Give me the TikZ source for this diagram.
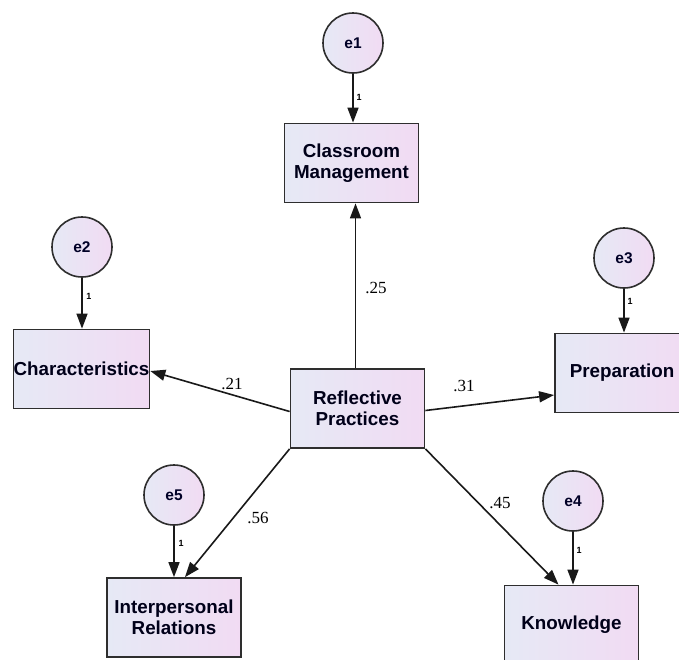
\documentclass[tikz,border=0pt]{standalone}
\usepackage{fontspec}
\setmainfont{Liberation Sans}
\newfontfamily\numfont{Liberation Serif}
\usetikzlibrary{arrows.meta}
\definecolor{lcol}{HTML}{E6E9F5}
\definecolor{rcol}{HTML}{F1DBF3}
\definecolor{edge}{HTML}{2E2E2E}
\tikzset{
  obsbox/.style={draw=edge, line width=1.8pt, rectangle, minimum width=134pt, minimum height=79pt,
     left color=lcol, right color=rcol, align=center, inner sep=0pt,
     font=\fontsize{18.8}{21.5}\selectfont\bfseries, text=black!90!blue},
  errc/.style={draw=edge, line width=1.6pt, circle, minimum size=60pt, inner sep=0pt,
     left color=lcol, right color=rcol, font=\fontsize{15.5}{17}\selectfont\bfseries, text=black!85!blue},
  path/.style={line width=1.6pt, draw=black!90, -{Triangle[length=15pt,width=11pt]}},
  coef/.style={font=\numfont\fontsize{17}{19}\selectfont, inner sep=0pt},
  one/.style={font=\fontsize{9}{10}\selectfont\bfseries, inner sep=0pt}
}
\begin{document}
\begin{tikzpicture}[x=1pt,y=-1pt]
\useasboundingbox (0,0) rectangle (679,659);
\clip (0,0) rectangle (679,659);
\fill[white] (0,0) rectangle (679,659);
% observed variables
\node[obsbox] (CM) at (351.5,163) {Classroom\\Management};
\node[obsbox] (CH) at (81.5,369) {Characteristics};
\node[obsbox] (RP) at (357.5,408.5) {Reflective\\Practices};
\node[obsbox] (PR) at (622,373) {Preparation};
\node[obsbox] (IR) at (174,617.5) {Interpersonal\\Relations};
\node[obsbox] (KN) at (571.5,625) {Knowledge};
% error terms
\node[errc] (e1) at (353,43) {e1};
\node[errc] (e2) at (82,247) {e2};
\node[errc] (e3) at (624,258) {e3};
\node[errc] (e5) at (174,495) {e5};
\node[errc] (e4) at (573,501) {e4};
% error arrows
\draw[path] (e1) -- (e1 |- CM.north);
\draw[path] (e2) -- (e2 |- CH.north);
\draw[path] (e3) -- (e3 |- PR.north);
\draw[path] (e5) -- (e5 |- IR.north);
\draw[path] (e4) -- (e4 |- KN.north);
% structural paths
\draw[path] ([xshift=-2pt]RP.north) -- ([xshift=-2pt]RP.north |- CM.south);
\draw[path] ([yshift=-3pt]RP.west) -- ([yshift=-2pt]CH.east);
\draw[path] ([yshift=-2pt]RP.east) -- ([yshift=-22pt]PR.west);
\draw[path] (RP.south west) -- ([xshift=11pt]IR.north);
\draw[path] (RP.south east) -- ([xshift=-13pt]KN.north);
% coefficients
\node[coef] (c1) at (376,288) {.25};
\node[coef] (c2) at (232,384) {.21};
\node[coef] (c3) at (464,386) {.31};
\node[coef] (c4) at (258,518) {.56};
\node[coef] (c5) at (500,503) {.45};
% fixed loadings
\node[one] (o1) at (359,97) {1};
\node[one] (o2) at (89,296) {1};
\node[one] (o3) at (630,301) {1};
\node[one] (o5) at (181,543) {1};
\node[one] (o4) at (579,550) {1};
\end{tikzpicture}
\end{document}
